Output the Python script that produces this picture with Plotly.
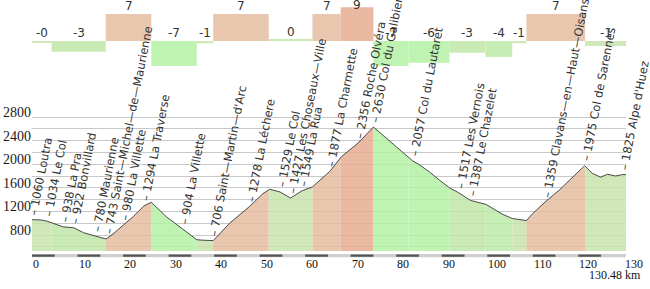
import numpy as np
import plotly.graph_objects as go

# ---------------- data ----------------
total_km = 130.48
km = [0, 2.0, 3.3, 5.0, 6.9, 9.2, 11.3, 14.0, 16.2, 16.5, 18.0, 20.0, 22.2, 24.6, 26.2,
      29.5, 33.0, 35.4, 36.2, 37.5, 39.5, 39.8, 40.5, 43.4, 47.7, 50.7, 52.2, 54.5, 56.8,
      59.3, 61.6, 65.4, 68.0, 71.6, 75.0, 79.3, 83.6, 85.1, 87.3, 89.5, 91.7, 93.7, 96.3,
      99.7, 101.5, 103.4, 105.5, 107.0, 108.6, 110.0, 112.7, 115.8, 118.5, 121.4, 123.1,
      124.9, 126.4, 128.2, 129.8, 130.48]
elev = [1060, 1055, 1034, 990, 938, 922, 840, 780, 735, 743, 830, 965, 1110, 1294, 1355,
        1110, 904, 760, 720, 712, 706, 705, 760, 1000, 1278, 1500, 1575, 1529, 1427,
        1549, 1615, 1877, 2130, 2356, 2630, 2345, 2057, 1990, 1870, 1730, 1600, 1517, 1387,
        1320, 1240, 1150, 1080, 1060, 1045, 1165, 1359, 1560, 1760, 1975, 1845,
        1780, 1830, 1800, 1825, 1822]

seg_edges = [0, 4.3, 16.2, 26.2, 36.2, 39.8, 52.0, 61.6, 67.8, 75.0, 82.7, 91.7,
             99.6, 105.5, 108.6, 121.5, 130.48]
seg_grad = [-0.4, -2.8, 7.1, -6.6, -0.6, 7.1, 0.3, 7.1, 8.9, -6.6, -5.7, -3.1,
            -4.2, -0.6, 7.1, -1.3]

place_km = [0, 3.3, 6.9, 9.2, 14.0, 16.5, 20.0, 24.6, 33.0, 39.5, 47.7, 54.5, 56.8,
            59.3, 65.4, 71.6, 75.0, 83.6, 93.7, 96.3, 112.7, 121.4, 129.8]
place_text = ["1060 Loutra", "1034 Le Col", "938 La Pra", "922 Bonvillard",
              "780 Maurienne", "743 Saint—Michel—de—Maurienne", "980 La Villette",
              "1294 La Traverse", "904 La Villette", "706 Saint—Martin—d'Arc",
              "1278 La Léchere", "1529 Le Col", "1427 Les Choseaux—Ville", "1549 La Rua",
              "1877 La Charmette", "2356 Roche Olvéra", "2630 Col du Galibier",
              "2057 Col du Lautaret", "1517 Les Vernois", "1387 Le Chazelet",
              "1359 Clavans—en—Haut—Oisans", "1975 Col de Sarennes", "1825 Alpe d'Huez"]

x_ticks = list(range(0, 131, 10))
y_ticks = list(range(600, 2801, 200))
y_labelled = [800, 1200, 1600, 2000, 2400, 2800]
scale_step = 5


# ---------------- styles ----------------
def grad_color(g):
    if g >= 8:
        return "#ebb9a1"
    if g >= 1:
        return "#e8c7ae"
    if g <= -5:
        return "#bff3b2"
    if g <= -3.5:
        return "#c6edb5"
    if g <= -2:
        return "#c9eab5"
    return "#cfe7b9"


def see_through(hexc, a=0.85):
    r, g, b = (int(hexc[i:i + 2], 16) for i in (1, 3, 5))
    f = lambda c: max(0, min(255, round((c - (1 - a) * 255) / a)))
    return f"rgba({f(r)},{f(g)},{f(b)},{a})"


SERIF = "Liberation Serif, Times New Roman, DejaVu Serif, serif"
SANS = "DejaVu Sans, Verdana, sans-serif"

fig = go.Figure()

km_arr = np.array(km, dtype=float)
el_arr = np.array(elev, dtype=float)

# profile fills per segment
for i, g in enumerate(seg_grad):
    a, b = seg_edges[i], seg_edges[i + 1]
    inside = (km_arr > a) & (km_arr < b)
    xs = [a] + list(km_arr[inside]) + [b]
    ys = np.interp(xs, km_arr, el_arr)
    fig.add_trace(go.Scatter(x=xs, y=ys, mode="lines", line=dict(width=0),
                             fill="tozeroy", fillcolor=see_through(grad_color(g)),
                             hoverinfo="skip", showlegend=False))

# profile line
fig.add_trace(go.Scatter(x=km, y=elev, mode="lines",
                         line=dict(color="#4a4a4a", width=1),
                         hoverinfo="skip", showlegend=False))

# gradient bars
mids = [(seg_edges[i] + seg_edges[i + 1]) / 2 for i in range(len(seg_grad))]
widths = [seg_edges[i + 1] - seg_edges[i] for i in range(len(seg_grad))]
fig.add_trace(go.Bar(x=mids, y=seg_grad, width=widths, yaxis="y2",
                     marker=dict(color=[grad_color(g) for g in seg_grad], line=dict(width=0)),
                     hoverinfo="skip", showlegend=False))

annotations = []
# gradient labels (kept inside the top edge)
for m, g in zip(mids, seg_grad):
    annotations.append(dict(x=m, y=min(max(g, 0), 7.3), xref="x", yref="y2", text=f"{g:.0f}",
                            showarrow=False, xanchor="center", yanchor="middle", yshift=8,
                            font=dict(family=SANS, size=12, color="#333")))

# place labels
for pk, pt in zip(place_km, place_text):
    e = float(np.interp(pk, km_arr, el_arr))
    annotations.append(dict(x=pk, y=e, xref="x", yref="y", text="– " + pt,
                            showarrow=False, textangle=-79, xanchor="left",
                            yanchor="bottom", xshift=-8, yshift=1,
                            font=dict(family=SANS, size=11.5, color="#333")))

# x tick labels (left aligned at tick)
for t in x_ticks:
    annotations.append(dict(x=t, y=-0.05, xref="x", yref="paper", text=str(t),
                            showarrow=False, xanchor="left", yanchor="middle", xshift=-1,
                            font=dict(family=SERIF, size=12, color="#111")))
annotations.append(dict(x=1.029, y=-0.095, xref="paper", yref="paper",
                        text=f"{total_km:.2f} km", showarrow=False,
                        xanchor="right", yanchor="middle",
                        font=dict(family=SERIF, size=12, color="#111")))

# scale bar under the profile
shapes = [dict(type="rect", xref="x", yref="paper", x0=0, x1=total_km,
               y0=-0.025, y1=-0.012, fillcolor="#cfcfcf", line=dict(width=0), layer="above")]
for s in range(0, int(total_km), 2 * scale_step):
    shapes.append(dict(type="rect", xref="x", yref="paper", x0=s,
                       x1=min(s + scale_step, total_km), y0=-0.023, y1=-0.014,
                       fillcolor="#555555", line=dict(width=0), layer="above"))

fig.update_layout(
    width=650, height=289,
    margin=dict(l=32, r=24, t=0, b=38),
    plot_bgcolor="white", paper_bgcolor="white",
    showlegend=False,
    annotations=annotations,
    shapes=shapes,
    xaxis=dict(range=[0, total_km], showgrid=False, zeroline=False,
               showticklabels=False, ticks="", showline=False, fixedrange=True),
    yaxis=dict(range=[529, 4783], tickvals=y_ticks,
               ticktext=[str(v) if v in y_labelled else "" for v in y_ticks],
               showgrid=True, gridcolor="#c8c8c8", gridwidth=1, zeroline=False,
               ticks="", showline=False, ticklabelshift=-5,
               tickfont=dict(family=SERIF, size=14, color="#1a1a1a")),
    yaxis2=dict(range=[-55.26, 10.79], overlaying="y", visible=False,
                showgrid=False, zeroline=False),
)

fig.write_html("out.html")
